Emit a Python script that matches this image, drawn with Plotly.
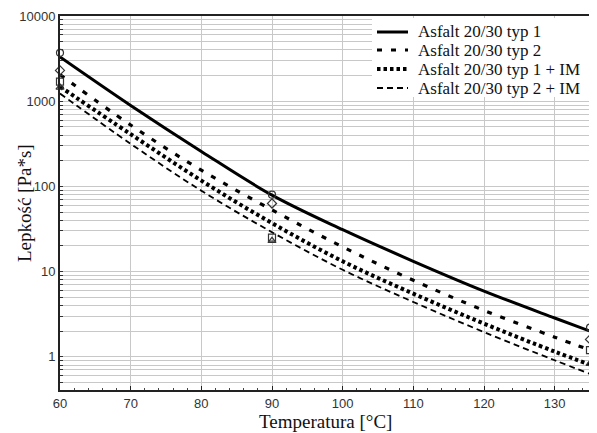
import plotly.graph_objects as go

temps = [60, 70, 80, 90, 100, 110, 120, 130, 135]
typ1 = [3300, 890, 257, 79, 31, 13.2, 5.9, 2.85, 2.0]
typ2 = [2050, 525, 155, 53, 19.5, 7.9, 3.5, 1.7, 1.2]
typ1_im = [1480, 410, 117, 37, 13.2, 5.5, 2.45, 1.15, 0.81]
typ2_im = [1230, 316, 89, 29, 10.5, 4.4, 1.95, 0.91, 0.63]

meas_t = [60, 90, 135]
meas_typ1 = [3700, 80, 2.2]
meas_typ2 = [2300, 63, 1.6]
meas_typ1_im = [1700, 25, 1.2]
meas_typ2_im = [1450, 23, 0.83]

names = ["Asfalt 20/30 typ 1", "Asfalt 20/30 typ 2",
         "Asfalt 20/30 typ 1 + IM", "Asfalt 20/30 typ 2 + IM"]
x_ticks = [60, 70, 80, 90, 100, 110, 120, 130]
decades = [1, 10, 100, 1000, 10000]
decade_labels = ["1", "10", "100", "1000", "10000"]

y_grid_vals = []
y_grid_text = []
for d, lab in zip([0.1] + decades, [""] + decade_labels):
    for k in range(1, 10):
        v = d * k
        if v > 10000.5:
            break
        y_grid_vals.append(v)
        y_grid_text.append(lab if k == 1 else "")

styles = [
    dict(width=3, dash="solid"),
    dict(width=3.2, dash="5px,9px"),
    dict(width=4, dash="3.5px,3px"),
    dict(width=1.8, dash="6px,4px"),
]
markers = ["circle-open", "diamond-open", "square-open", "triangle-up-open"]

fig = go.Figure()
for name, vals, st in zip(names, [typ1, typ2, typ1_im, typ2_im], styles):
    fig.add_trace(go.Scatter(x=temps, y=vals, mode="lines", name=name,
                             showlegend=False,
                             line=dict(color="black", shape="spline", **st)))
for vals, m in zip([meas_typ1, meas_typ2, meas_typ1_im, meas_typ2_im], markers):
    fig.add_trace(go.Scatter(x=meas_t, y=vals, mode="markers", showlegend=False,
                             cliponaxis=False,
                             marker=dict(symbol=m, size=7, color="#333",
                                         line=dict(width=1.2, color="#333"))))

PW, PH = 530.0, 374.0
def px(x):
    return (x - 52) / PW
def py(y):
    return 1 - (y - 8) / PH

shapes = [dict(type="rect", xref="paper", yref="paper",
               x0=px(364), x1=1.0, y0=py(89), y1=py(10),
               fillcolor="white", line=dict(width=0), layer="above")]
annotations = []
row_y = [24, 42, 61, 80]
for name, st, ry in zip(names, styles, row_y):
    shapes.append(dict(type="line", xref="paper", yref="paper",
                       x0=px(369), x1=px(400), y0=py(ry), y1=py(ry),
                       line=dict(color="black", width=st["width"], dash=st["dash"]),
                       layer="above"))
    annotations.append(dict(text=name, xref="paper", yref="paper",
                            x=px(408), y=py(ry), xanchor="left", yanchor="middle",
                            showarrow=False,
                            font=dict(family="Liberation Serif", size=17, color="#111")))

annotations += [
    dict(text="Temperatura [°C]", xref="paper", yref="paper",
         x=0.5, y=py(413), yanchor="middle", xanchor="center", showarrow=False,
         font=dict(family="Liberation Serif", size=19, color="#111")),
    dict(text="Lepkość [Pa*s]", xref="paper", yref="paper",
         x=px(16), y=0.5, xanchor="center", yanchor="middle",
         textangle=-90, showarrow=False,
         font=dict(family="Liberation Serif", size=19, color="#111")),
]

fig.update_layout(
    width=589, height=425,
    margin=dict(l=52, r=7, t=8, b=43, autoexpand=False),
    paper_bgcolor="white", plot_bgcolor="white",
    showlegend=False,
    font=dict(family="Liberation Sans", color="#333"),
    shapes=shapes,
    annotations=annotations,
)
fig.update_xaxes(
    range=[60, 135], tickvals=x_ticks, showgrid=True,
    gridcolor="#c8c8c8", gridwidth=1.2,
    showline=True, linecolor="#222", linewidth=2, mirror=True,
    ticks="inside", ticklen=4, tickcolor="#222",
    minor=dict(dtick=2, ticks="inside", ticklen=2, tickcolor="#444", showgrid=False),
    tickfont=dict(family="Liberation Sans", size=13, color="#333"),
    automargin=False, zeroline=False,
)
fig.update_yaxes(
    type="log", range=[-0.39, 4.0], tickvals=y_grid_vals, ticktext=y_grid_text,
    showgrid=True, gridcolor="#c8c8c8", gridwidth=1.2,
    showline=True, linecolor="#222", linewidth=2, mirror=True,
    ticks="inside", ticklen=3, tickcolor="#333",
    tickfont=dict(family="Liberation Sans", size=13, color="#333"),
    automargin=False, zeroline=False,
)
fig.write_html("out.html")
